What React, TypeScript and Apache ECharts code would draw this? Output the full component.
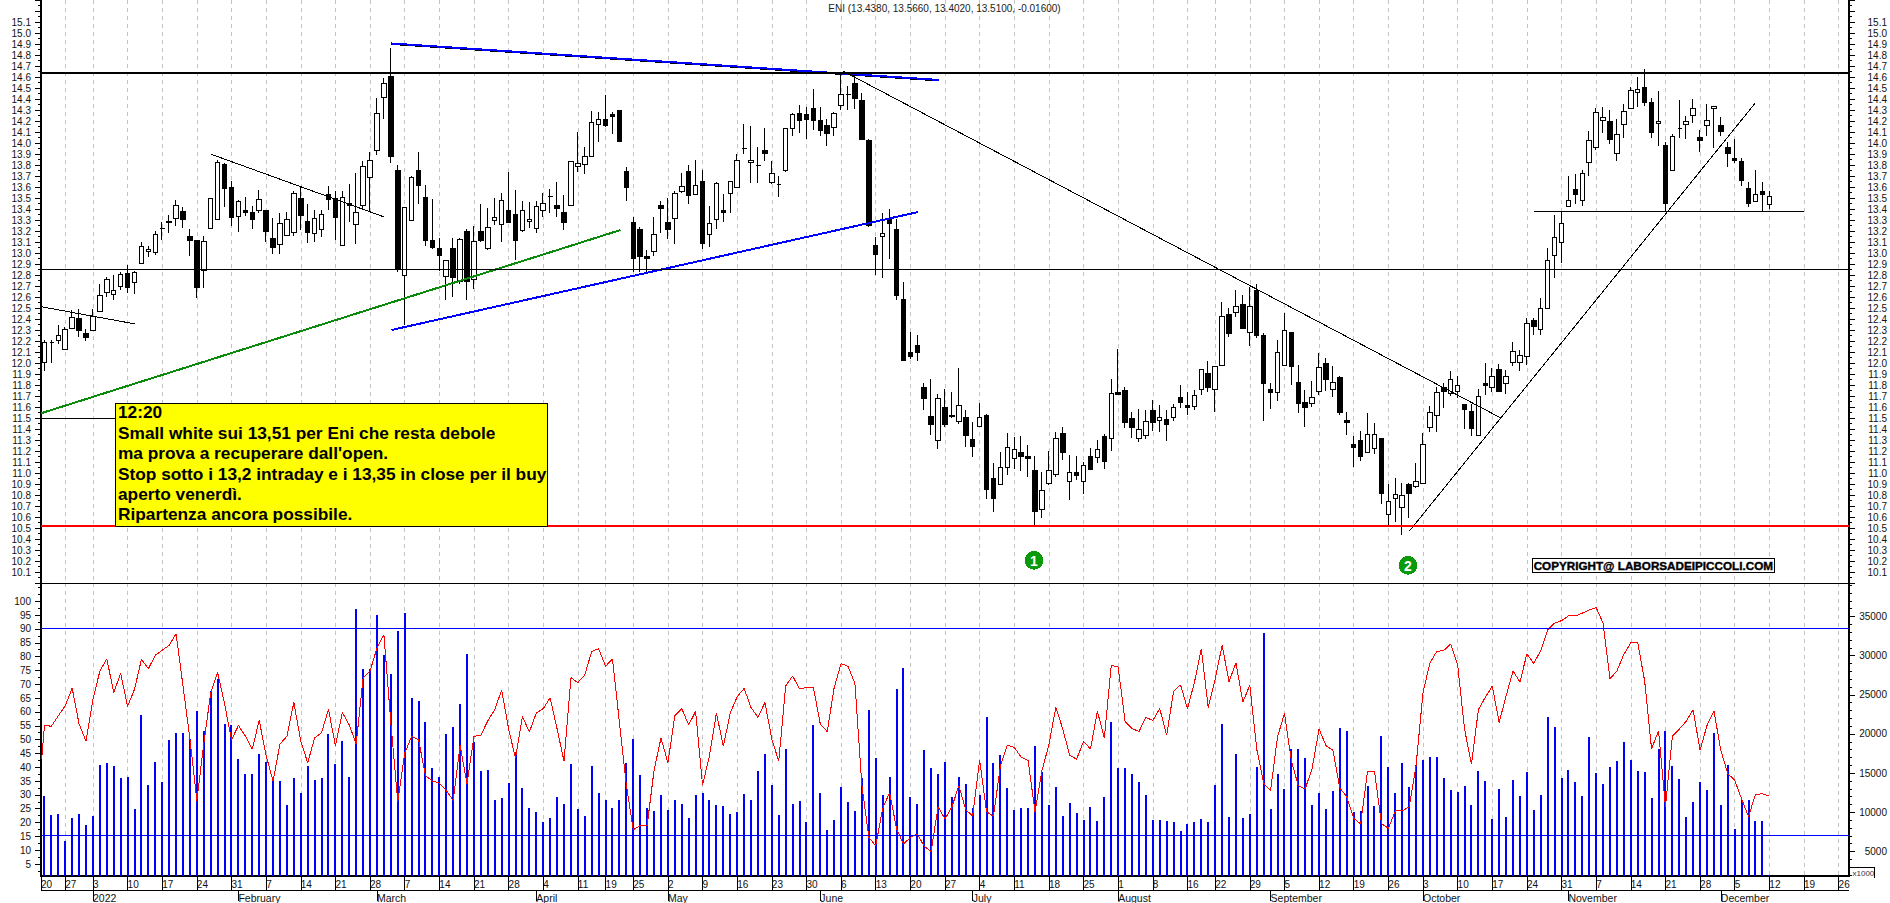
import React, { useEffect, useRef } from "react";
import * as echarts from "echarts";

// open, close, low, high for each trading day
const ohlcRows: number[][] = [
[12.006,12.188,11.93,12.21],[12.19,12.19,12.0,12.21],[12.204,12.249,12.17,12.346],[12.127,12.306,12.12,12.33],[12.312,12.415,12.31,12.48],
[12.406,12.291,12.24,12.488],[12.27,12.23,12.2,12.306],[12.3,12.42,12.3,12.488],[12.464,12.618,12.46,12.718],[12.64,12.76,12.6,12.785],
[12.62,12.658,12.57,12.8],[12.7,12.806,12.66,12.83],[12.81,12.69,12.64,12.89],[12.733,12.824,12.63,12.84],[12.906,13.06,12.9,13.1],
[13.012,13.033,12.96,13.06],[13.003,13.167,12.98,13.2],[13.224,13.224,13.12,13.285],[13.288,13.276,13.18,13.345],[13.31,13.43,13.25,13.48],
[13.38,13.306,13.23,13.42],[13.15,13.11,12.97,13.215],[13.118,12.69,12.59,13.12],[12.845,13.106,12.685,13.155],[13.224,13.494,13.22,13.5],
[13.306,13.82,13.3,13.845],[13.806,13.588,13.42,13.815],[13.597,13.32,13.25,13.655],[13.333,13.467,13.19,13.48],[13.388,13.367,13.34,13.51],
[13.37,13.303,13.22,13.43],[13.39,13.485,13.36,13.57],[13.388,13.194,13.1,13.39],[13.133,13.048,12.99,13.32],[13.08,13.267,12.99,13.36],
[13.16,13.303,13.157,13.37],[13.188,13.542,13.155,13.564],[13.497,13.34,13.21,13.6],[13.288,13.185,13.09,13.445],[13.18,13.312,13.1,13.39],
[13.215,13.348,13.15,13.39],[13.533,13.488,13.39,13.61],[13.497,13.32,13.12,13.56],[13.07,13.503,13.07,13.56],[13.45,13.436,13.285,13.63],
[13.26,13.37,13.08,13.724],[13.433,13.785,13.39,13.833],[13.688,13.84,13.376,13.915],[13.933,14.267,13.89,14.406],[14.41,14.54,14.218,14.588],
[14.606,13.876,13.82,14.86],[13.752,12.85,12.83,13.8],[12.794,13.415,12.346,13.42],[13.3,13.685,13.294,13.7],[13.752,13.612,13.45,13.915],
[13.506,13.112,13.067,13.618],[13.118,13.048,13.04,13.488],[13.042,12.98,12.84,13.136],[12.788,12.93,12.57,12.93],[13.042,12.776,12.6,13.14],
[12.74,13.124,12.72,13.14],[13.197,12.745,12.57,13.215],[12.755,13.103,12.67,13.246],[13.194,13.112,13.103,13.445],[13.042,13.23,13.03,13.41],
[13.297,13.324,13.254,13.497],[13.26,13.476,13.103,13.55],[13.388,13.276,13.27,13.733],[13.352,13.112,12.936,13.573],[13.206,13.385,13.194,13.473],
[13.288,13.306,13.224,13.467],[13.224,13.42,13.18,13.473],[13.388,13.448,13.33,13.542],[13.512,13.512,13.36,13.58],[13.433,13.403,13.33,13.65],
[13.37,13.276,13.21,13.527],[13.433,13.83,13.43,13.83],[13.785,13.815,13.736,14.097],[13.806,13.879,13.72,13.96],[13.879,14.185,13.876,14.29],
[14.167,14.215,14.01,14.28],[14.215,14.155,14.148,14.44],[14.26,14.24,14.08,14.285],[14.3,14.012,14.01,14.3],[13.742,13.594,13.476,13.78],
[13.279,12.948,12.83,13.33],[13.218,12.967,12.83,13.24],[12.97,12.948,12.83,13.03],[13.015,13.17,12.97,13.324],[13.433,13.403,13.185,13.473],
[13.279,13.212,13.127,13.497],[13.315,13.54,13.08,13.567],[13.558,13.603,13.548,13.724],[13.742,13.521,13.445,13.8],[13.533,13.612,13.527,13.845],
[13.648,13.088,13.036,13.755],[13.17,13.267,13.057,13.427],[13.306,13.63,13.218,13.648],[13.388,13.367,13.285,13.54],[13.54,13.648,13.36,13.65],
[13.597,13.84,13.588,13.9],[13.95,13.95,13.9,14.173],[13.824,13.84,13.633,14.155],[13.8,13.8,13.636,13.964],[13.933,13.903,13.836,14.133],
[13.64,13.724,13.627,13.836],[13.627,13.627,13.51,13.7],[13.748,14.133,13.74,14.135],[14.133,14.258,14.06,14.27],[14.27,14.203,14.09,14.345],
[14.255,14.212,14.036,14.33],[14.31,14.203,14.118,14.488],[14.206,14.112,14.06,14.33],[14.16,14.085,13.976,14.215],[14.142,14.267,14.06,14.285],
[14.34,14.442,14.3,14.65],[14.442,14.442,14.3,14.518],[14.542,14.403,14.309,14.633],[14.39,14.03,14.027,14.458],[14.024,13.248,13.24,14.036],
[13.067,12.985,12.8,13.142],[13.152,13.176,12.776,13.36],[13.306,13.267,12.945,13.397],[13.215,12.612,12.57,13.31],[12.58,12.02,12.02,12.733],
[12.097,12.058,12.037,12.279],[12.161,12.094,12.02,12.255],[11.779,11.676,11.573,11.815],[11.515,11.44,11.346,11.852],[11.297,11.676,11.218,11.718],
[11.597,11.44,11.415,11.76],[11.525,11.512,11.503,11.734],[11.467,11.612,11.446,11.952],[11.506,11.34,11.237,11.573],[11.306,11.24,11.149,11.464],
[11.42,11.506,11.415,11.634],[11.524,10.85,10.764,11.536],[10.952,10.767,10.646,11.088],[10.9,11.052,10.89,11.188],[11.052,11.234,10.982,11.361],
[11.13,11.215,11.034,11.325],[11.188,11.149,11.022,11.337],[11.152,11.13,10.967,11.255],[11.024,10.649,10.52,11.155],[10.67,10.84,10.594,11.006],
[10.906,11.022,10.89,11.2],[10.988,11.312,10.967,11.37],[11.361,11.185,11.118,11.418],[10.924,11.003,10.755,11.164],[11.006,10.976,10.937,11.155],
[10.924,11.067,10.81,11.097],[11.152,11.03,11.028,11.23],[11.143,11.212,11.088,11.3],[11.334,11.103,11.037,11.355],[11.315,11.721,11.203,11.852],
[11.734,11.712,11.71,12.127],[11.752,11.458,11.406,11.779],[11.497,11.412,11.322,11.552],[11.315,11.394,11.285,11.582],[11.343,11.467,11.306,11.573],
[11.57,11.458,11.385,11.664],[11.479,11.503,11.376,11.618],[11.488,11.44,11.294,11.573],[11.506,11.597,11.476,11.627],[11.688,11.637,11.588,11.8],
[11.615,11.594,11.527,11.734],[11.606,11.703,11.573,11.755],[11.755,11.94,11.71,11.94],[11.906,11.776,11.74,12.018],[11.761,11.967,11.558,11.967],
[11.979,12.424,11.976,12.552],[12.443,12.267,12.24,12.497],[12.461,12.515,12.42,12.664],[12.534,12.318,12.312,12.62],[12.276,12.518,12.158,12.69],
[12.66,12.25,12.23,12.72],[12.252,11.815,11.476,12.27],[11.761,11.73,11.58,11.815],[11.734,12.097,11.658,12.209],[11.979,12.3,11.973,12.452],
[12.279,11.967,11.8,12.285],[11.824,11.63,11.543,11.982],[11.643,11.594,11.421,11.755],[11.63,11.685,11.603,11.836],[11.74,11.958,11.709,12.088],
[11.997,11.846,11.749,12.043],[11.761,11.824,11.694,11.973],[11.867,11.549,11.525,11.882],[11.479,11.455,11.346,11.558],[11.261,11.231,11.058,11.336],
[11.297,11.149,11.112,11.382],[11.185,11.352,11.18,11.543],[11.224,11.349,11.173,11.452],[11.318,10.812,10.716,11.318],[10.621,10.743,10.522,10.897],
[10.77,10.806,10.558,10.952],[10.688,10.794,10.437,10.906],[10.897,10.815,10.588,10.912],[10.876,10.921,10.861,11.088],[10.906,11.258,10.9,11.361],
[11.415,11.549,11.376,11.61],[11.521,11.734,11.376,11.78],[11.776,11.74,11.594,11.82],[11.721,11.852,11.703,11.928],[11.74,11.794,11.682,11.88],
[11.627,11.576,11.397,11.63],[11.561,11.403,11.34,11.627],[11.343,11.694,11.34,11.76],[11.818,11.794,11.709,11.997],[11.779,11.876,11.74,11.952],
[11.943,11.74,11.737,11.988],[11.815,11.876,11.718,11.936],[12.006,12.103,11.976,12.188],[12.006,12.067,11.93,12.118],[12.058,12.358,11.982,12.406],
[12.388,12.33,12.255,12.406],[12.306,12.497,12.255,12.594],[12.497,12.93,12.49,13.042],[12.976,13.142,12.776,13.345],[13.097,13.267,12.906,13.379],
[13.421,13.476,13.42,13.7],[13.579,13.536,13.445,13.715],[13.479,13.721,13.43,13.755],[13.824,14.021,13.7,14.109],[13.958,14.276,13.936,14.315],
[14.206,14.23,14.09,14.33],[14.197,14.03,13.988,14.3],[13.906,14.076,13.836,14.215],[14.167,14.285,14.048,14.355],[14.312,14.476,14.309,14.506],
[14.455,14.485,14.324,14.597],[14.506,14.367,14.336,14.67],[14.37,14.094,14.048,14.412],[14.176,14.197,13.976,14.473],[13.979,13.446,13.382,14.012],
[13.748,14.061,13.745,14.079],[14.133,14.133,14.045,14.39],[14.167,14.197,14.036,14.245],[14.248,14.312,14.179,14.4],[14.052,14.027,13.915,14.118],
[14.161,14.203,14.067,14.355],[14.315,14.333,13.952,14.335],[14.161,14.103,14.064,14.233],[13.955,13.903,13.785,14.006],[13.861,13.845,13.815,14.04],
[13.833,13.658,13.609,13.861],[13.588,13.448,13.421,13.648],[13.467,13.53,13.461,13.755],[13.561,13.533,13.376,13.645],[13.438,13.51,13.402,13.566],
];

const volumes: number[] = [
12090,9680,9770,6390,9300,9810,8370,9470,16100,16270,
15890,14410,14460,10360,22480,13530,16400,13820,19230,20080,
20080,19360,22950,20330,25490,27050,21300,21130,16820,14920,
14920,17460,16400,14080,13950,10910,14370,12510,15850,14160,
14370,19990,16190,19060,14500,35920,28310,28230,35200,30050,
27600,33170,35460,24640,24170,21510,15680,14500,19990,20840,
23880,30260,18940,15260,15430,11580,11880,13740,17670,13100,
10490,9980,8710,9220,11960,11080,16190,10360,9470,15890,
12510,11580,10490,11580,16270,19360,14800,10490,10110,12220,
10320,11580,11120,9300,12260,12470,11630,10990,10820,9810,
9980,12390,11580,15300,17460,13530,9640,18090,11080,11460,
8800,21130,12470,7700,9050,13270,11330,10110,14410,23030,
16910,12260,14500,25700,28360,12010,11120,17960,15680,14920,
16400,12010,14500,13650,10490,12180,22150,16310,17370,13150,
10320,10490,10490,18430,15180,10950,13230,9560,11200,9850,
9050,10740,8880,11960,21470,15680,15680,14920,13870,12260,
8960,8960,8840,8800,7610,8460,8750,9090,8710,13490,
21260,9430,17460,9300,9810,15770,32880,10360,14920,13020,
18090,18090,16990,10990,12510,10360,12730,20710,20370,9980,
10150,13360,10780,19740,15810,12510,16310,13230,15980,16740,
17080,17080,14410,12810,12600,13400,10990,15300,14030,9090,
12980,9350,14120,12090,15180,10320,12220,22150,20840,14410,
15390,13910,12090,19610,15010,13650,15770,16530,18940,16700,
15260,15180,11840,18090,20330,15940,14250,9350,11330,13910,
12850,20080,10990,16060,7820,11580,11630,8840,8840,2030,
];

const oscillator: number[] = [
55.2,54.8,58.6,62.2,68.6,55.6,49.4,64.6,74.8,79.2,
67,73.9,62,68.2,79,75.6,80.5,82.3,84.1,88.3,
69.4,50.2,28,48.5,67,74.2,62.9,49.9,55.1,51.3,
46.5,57,44.2,35,48.4,51.2,63.4,49.5,41.6,50.6,
52.5,60.9,47.8,59.8,55.3,48.4,72.4,74.8,83.1,87.9,
56.2,27.6,45,51.2,50,37,35,34.3,31.6,28,
47.9,34,51.2,51.6,56.8,60.8,67.9,53.9,43.2,58.4,
52.7,59.6,61.2,65.1,53.9,42.2,72.4,70.6,73.4,81.9,
82.8,76.5,79.2,56.2,33.7,17.4,18.9,18.9,38.9,50.6,
41.6,58.6,61.2,55.3,60.2,33.5,44.2,59.6,47.6,59.6,
65.5,68.5,61.6,58,63.4,50.2,42.2,69.4,73,68.4,
68.8,68.8,55.6,52.9,68.8,77.5,76.5,70.2,33.5,14.7,
11.6,25.1,30.8,17.9,12.2,14.6,15.9,11.4,9.6,25.7,
21.3,25.7,33.3,24.6,22.4,42.7,23.9,22.3,40.6,48,
47.2,43.6,42.4,23.8,38.8,48.2,61.7,53.8,44.3,42.9,
49.4,46.6,60.2,50.6,76.9,76.2,56.5,54,52.9,58,
56.9,61.2,51.6,67.5,69.8,61.2,70.6,82.8,61.6,71.7,
84.1,71,77.7,63.5,69.7,46.6,34.2,31.6,51,59.4,
42.4,33.3,32.2,39.6,53.8,47.8,46.2,32.5,29.3,21.5,
19.5,38.6,38.6,19.7,17.9,24.2,24.2,25.7,40.6,66.9,
77.7,81.9,82.2,84.6,77.1,53.8,41.2,60.8,65.3,69.3,
56.2,65.8,74.8,70.8,81,77.5,82.2,89.7,92.1,93,
94.7,94.7,95.7,96.9,97.7,92.1,72,74.8,80.8,85,
85,71.2,46.6,53.2,25.7,51.2,53.8,56.6,60.8,46.1,
55.1,60.4,46.1,37.7,35.3,28.5,22.2,30.2,30.4,29.6,
];
const oscillatorLead = [-0.4, 43];

const dayCount = 261;
const weekTicks = [-0.5,3,7,12,17,22,27,32,37,42,47,52,57,62,67,72,77,81,85,90,95,100,105,110,115,120,125,130,135,140,145,150,155,160,165,169,174,179,184,189,194,199,204,209,214,219,224,229,234,239,244,249,254,259];
const weekLabels = ["20","27","3","10","17","24","31","7","14","21","28","7","14","21","28","4","11","19","25","2","9","16","23","30","6","13","20","27","4","11","18","25","1","8","16","22","29","5","12","19","26","3","10","17","24","31","7","14","21","28","5","12","19","26"];
const monthTicks = [7,28,48,71,90,112,134,155,177,199,220,242];
const monthLabels = ["2022","February","March","April","May","June","July","August","September","October","November","December"];

// levels and trend lines: [day, price, day, price]
const resistanceLevel = 14.64;
const midLevel = 12.848;
const supportLevel = 10.518;
const bandHigh = 90;
const bandLow = 15.2;
const blueFalling = [50.09, 14.905, 129.17, 14.573];
const blueFallingEdge = [50.09, 14.896, 129.17, 14.564];
const blueRising = [50.09, 12.3, 126.15, 13.373];
const greenRising = [-0.5, 11.543, 83.16, 13.209];
const thinFallingLong = [115.25, 14.655, 210.16, 11.503];
const thinFallingFeb = [24.1, 13.897, 48.94, 13.33];
const thinFallingJan = [-0.5, 12.512, 13.09, 12.355];
const thinFlatLeft = [-0.5, 11.497, 12, 11.497];
const thinFlatRight = [215.02, 13.379, 254.07, 13.379];
const thinRising = [197.05, 10.473, 247.0, 14.366];

const titleText = "ENI (13.4380, 13.5660, 13.4020, 13.5100, -0.01600)";
const noteLines = [
  "12:20",
  "Small white sui 13,51 per Eni che resta debole",
  "ma prova a recuperare dall'open.",
  "Stop sotto i 13,2 intraday e i 13,35 in close per il buy",
  "aperto venerdì.",
  "Ripartenza ancora possibile.",
];
const copyrightText = "COPYRIGHT@ LABORSADEIPICCOLI.COM";

const leftLabelValues = Array.from({ length: 20 }, (_, i) => (i + 1) * 5);
const leftMinorValues = Array.from({ length: 42 }, (_, i) => 2.5 + i * 2.5);
const rightLabelValues = [5000, 10000, 15000, 20000, 25000, 30000, 35000];
const rightMinorValues = Array.from({ length: 38 }, (_, i) => 2000 + i * 1000);

const FONT = '"Liberation Sans", Arial, sans-serif';
const GRID_TOP_H = 583;
const GRID_LOW_TOP = 583;
const GRID_LOW_H = 295;

function segment(seg: number[], color: string, width: number, xAxisIndex: number, yAxisIndex: number, z = 5) {
  return {
    type: "line",
    xAxisIndex,
    yAxisIndex,
    data: [[seg[0], seg[1]], [seg[2], seg[3]]],
    showSymbol: false,
    silent: true,
    z,
    lineStyle: { color, width },
  };
}

export default function App() {
  const ref = useRef<HTMLDivElement>(null);

  useEffect(() => {
    document.body.style.margin = "0";
    const chart = echarts.init(ref.current!, null, { renderer: "svg" });
    const categories = Array.from({ length: dayCount }, (_, i) => String(i));
    const weekMap = new Map(weekTicks.map((t, i) => [t, weekLabels[i]]));
    const monthMap = new Map(monthTicks.map((t, i) => [t, monthLabels[i]]));
    const textColor = "#111";
    const ax = { color: "#000", width: 2 };
    const hidden = { show: false };
    const gridDash = { show: true, lineStyle: { color: "#c4c4c4", width: 1, type: [4, 4] } };
    const priceLabel = (v: number) => (v >= 10.05 && v <= 15.15 ? v.toFixed(1) : "");

    const oscPoints = [oscillatorLead, ...oscillator.map((v, i) => [i, v])];

    const option: any = {
      animation: false,
      backgroundColor: "#fff",
      grid: [
        { left: 41, width: 1808, top: 0, height: GRID_TOP_H },
        { left: 41, width: 1808, top: GRID_LOW_TOP, height: GRID_LOW_H },
      ],
      xAxis: [
        { type: "category", gridIndex: 0, data: categories, show: false },
        {
          type: "value", gridIndex: 0, min: -0.5, max: dayCount - 0.5, position: "bottom",
          axisLine: { show: true, onZero: false, lineStyle: { color: "#000", width: 1 } },
          axisTick: { show: false, customValues: weekTicks },
          axisLabel: { show: false },
          splitLine: gridDash,
        },
        { type: "category", gridIndex: 1, data: categories, show: false },
        {
          type: "value", gridIndex: 1, min: -0.5, max: dayCount - 0.5, position: "bottom",
          axisLine: { show: true, onZero: false, lineStyle: ax },
          axisTick: { show: true, length: 14, customValues: weekTicks, lineStyle: { color: "#000", width: 1 } },
          axisLabel: {
            show: true, customValues: weekTicks, align: "left", margin: 3, fontSize: 10, fontFamily: FONT,
            color: textColor, formatter: (v: number) => weekMap.get(v) ?? "",
          },
          splitLine: gridDash,
        },
        {
          type: "value", gridIndex: 1, min: -0.5, max: dayCount - 0.5, position: "bottom", offset: 14,
          axisLine: { show: true, onZero: false, lineStyle: { color: "#000", width: 1 } },
          axisTick: { show: true, length: 11, customValues: monthTicks, lineStyle: { color: "#000", width: 1 } },
          axisLabel: {
            show: true, customValues: monthTicks, align: "left", margin: 2, fontSize: 10.5, fontFamily: FONT,
            color: textColor, formatter: (v: number) => monthMap.get(v) ?? "",
          },
          splitLine: hidden,
        },
      ],
      yAxis: [
        {
          type: "value", gridIndex: 0, position: "left", min: 10, max: 15.3, interval: 0.1,
          axisLine: { show: true, onZero: false, lineStyle: ax },
          axisTick: { show: true, length: 6, lineStyle: { color: "#000", width: 1 } },
          minorTick: { show: true, splitNumber: 2, length: 3, lineStyle: { color: "#000", width: 1 } },
          axisLabel: { margin: 10, fontSize: 10, fontFamily: FONT, color: textColor, formatter: priceLabel },
          splitLine: hidden,
        },
        {
          type: "value", gridIndex: 0, position: "right", min: 10, max: 15.3, interval: 0.1,
          axisLine: { show: true, onZero: false, lineStyle: ax },
          axisTick: { show: true, length: 6, lineStyle: { color: "#000", width: 1 } },
          minorTick: { show: true, splitNumber: 2, length: 3, lineStyle: { color: "#000", width: 1 } },
          axisLabel: { margin: 38, align: "right", fontSize: 10, fontFamily: FONT, color: textColor, formatter: priceLabel },
          splitLine: hidden,
        },
        {
          type: "value", gridIndex: 1, position: "left", min: 0.69, max: 106.6,
          axisLine: { show: true, onZero: false, lineStyle: ax },
          axisTick: { show: true, length: 6, customValues: leftLabelValues, lineStyle: { color: "#000", width: 1 } },
          axisLabel: { customValues: leftLabelValues, margin: 10, fontSize: 10, fontFamily: FONT, color: textColor, formatter: (v: number) => String(v) },
          splitLine: hidden,
        },
        {
          type: "value", gridIndex: 1, position: "left", min: 0.69, max: 106.6,
          axisLine: { show: false, onZero: false },
          axisTick: { show: true, length: 3, customValues: leftMinorValues, lineStyle: { color: "#000", width: 1 } },
          axisLabel: { show: false },
          splitLine: hidden,
        },
        {
          type: "value", gridIndex: 1, position: "right", min: 1870, max: 39270,
          axisLine: { show: true, onZero: false, lineStyle: ax },
          axisTick: { show: true, length: 6, customValues: rightLabelValues, lineStyle: { color: "#000", width: 1 } },
          axisLabel: { customValues: rightLabelValues, margin: 38, align: "right", fontSize: 10, fontFamily: FONT, color: textColor, formatter: (v: number) => String(v) },
          splitLine: hidden,
        },
        {
          type: "value", gridIndex: 1, position: "right", min: 1870, max: 39270,
          axisLine: { show: false, onZero: false },
          axisTick: { show: true, length: 3, customValues: rightMinorValues, lineStyle: { color: "#000", width: 1 } },
          axisLabel: { show: false },
          splitLine: hidden,
        },
      ],
      series: [
        {
          type: "candlestick", xAxisIndex: 0, yAxisIndex: 0, data: ohlcRows, barWidth: 5, silent: true, z: 3,
          itemStyle: { color: "#fff", color0: "#000", borderColor: "#000", borderColor0: "#000", borderWidth: 1 },
        },
        segment(blueFallingEdge, "#000", 1, 1, 0, 4),
        segment(blueFalling, "#0000ff", 2, 1, 0),
        segment(blueRising, "#0000ff", 2, 1, 0),
        segment(greenRising, "#0a8a0a", 2, 1, 0),
        segment(thinFallingLong, "#000", 1, 1, 0),
        segment(thinFallingFeb, "#000", 1, 1, 0),
        segment(thinFallingJan, "#000", 1, 1, 0),
        segment(thinFlatLeft, "#000", 1, 1, 0),
        segment(thinFlatRight, "#000", 1, 1, 0),
        segment(thinRising, "#000", 1, 1, 0),
        segment([-0.5, resistanceLevel, dayCount - 0.5, resistanceLevel], "#000", 2, 1, 0),
        segment([-0.5, midLevel, dayCount - 0.5, midLevel], "#000", 1, 1, 0),
        segment([-0.5, supportLevel, dayCount - 0.5, supportLevel], "#ff0000", 2, 1, 0),
        {
          type: "bar", xAxisIndex: 2, yAxisIndex: 4, data: volumes, barWidth: 2, silent: true, z: 3,
          itemStyle: { color: "#0000ff" },
        },
        {
          type: "line", xAxisIndex: 3, yAxisIndex: 2, data: oscPoints, showSymbol: false, silent: true, z: 4,
          lineStyle: { color: "#ff0000", width: 1 },
        },
        segment([-0.5, bandHigh, dayCount - 0.5, bandHigh], "#0000ff", 1, 3, 2),
        segment([-0.5, bandLow, dayCount - 0.5, bandLow], "#0000ff", 1, 3, 2),
      ],
      graphic: [
        {
          type: "text", x: 944.5, y: 8.5, z: 100, silent: true,
          style: { text: titleText, fill: "#222", font: `10px ${FONT}`, textAlign: "center", textVerticalAlign: "middle" },
        },
        {
          type: "rect", z: 100, silent: true,
          shape: { x: 115.5, y: 403.5, width: 431.5, height: 122.5 },
          style: { fill: "#ffff00", stroke: "#000", lineWidth: 1 },
        },
        ...noteLines.map((t, i) => ({
          type: "text", x: 118, y: 412.3 + i * 20.4, z: 101, silent: true,
          style: { text: t, fill: "#000", font: `bold 17.3px ${FONT}`, textAlign: "left", textVerticalAlign: "middle" },
        })),
        {
          type: "rect", z: 100, silent: true,
          shape: { x: 1532.5, y: 558.5, width: 241.5, height: 14 },
          style: { fill: "#fff", stroke: "#000", lineWidth: 1 },
        },
        {
          type: "text", x: 1653.3, y: 565.7, z: 101, silent: true,
          style: { text: copyrightText, fill: "#000", stroke: "#000", lineWidth: 0.4, font: `bold 11.7px ${FONT}`, textAlign: "center", textVerticalAlign: "middle" },
        },
        { type: "circle", z: 100, silent: true, shape: { cx: 1034, cy: 560.3, r: 9.3 }, style: { fill: "#0a9a0a" } },
        {
          type: "text", x: 1034, y: 560.5, z: 101, silent: true,
          style: { text: "1", fill: "#fff", font: `bold 14px ${FONT}`, textAlign: "center", textVerticalAlign: "middle" },
        },
        { type: "circle", z: 100, silent: true, shape: { cx: 1408, cy: 565.3, r: 9.3 }, style: { fill: "#0a9a0a" } },
        {
          type: "text", x: 1408, y: 565.5, z: 101, silent: true,
          style: { text: "2", fill: "#fff", font: `bold 14px ${FONT}`, textAlign: "center", textVerticalAlign: "middle" },
        },
        {
          type: "polyline", z: 100, silent: true,
          shape: { points: [[1851.5, 867.5], [1874.5, 867.5], [1874.5, 878]] },
          style: { fill: "none", stroke: "#000", lineWidth: 1 },
        },
        {
          type: "text", x: 1852.5, y: 873, z: 101, silent: true,
          style: { text: "x1000", fill: "#334", font: `8px ${FONT}`, textAlign: "left", textVerticalAlign: "middle" },
        },
      ],
    };
    chart.setOption(option);
    return () => chart.dispose();
  }, []);

  return (
    <>
      <style>{`.eni-chart svg path { shape-rendering: crispEdges; }`}</style>
      <div className="eni-chart" ref={ref} style={{ position: "absolute", left: 0, top: 0, width: 1890, height: 903 }} />
    </>
  );
}
